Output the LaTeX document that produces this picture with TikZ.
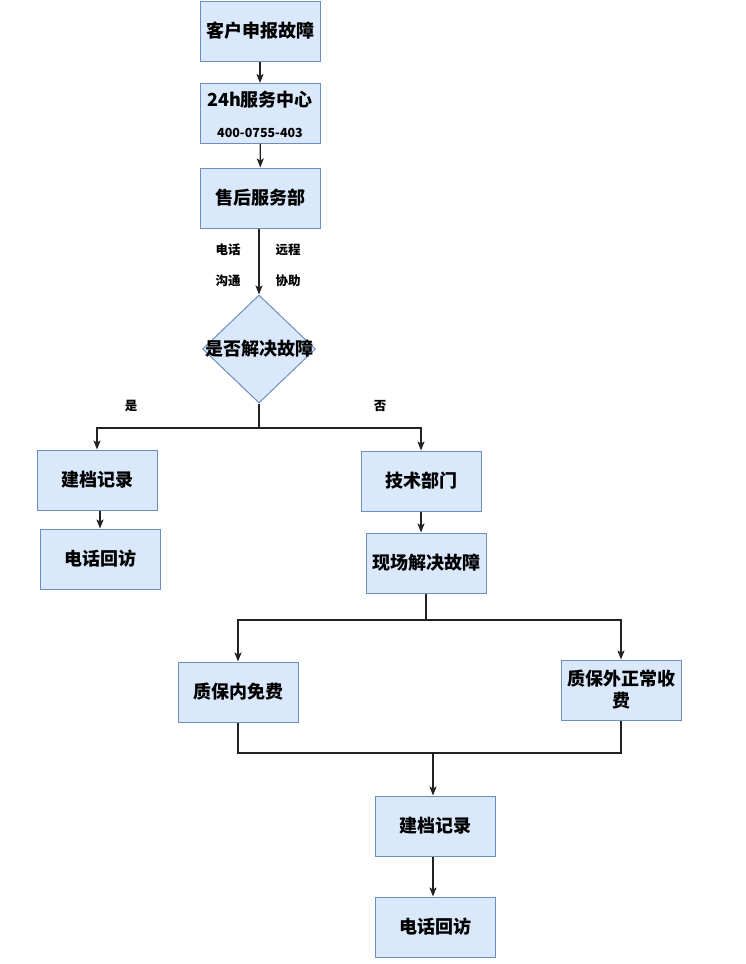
\documentclass[tikz,border=0pt]{standalone}
\usepackage{fontspec}
\setmainfont{Noto Sans CJK SC}
\usetikzlibrary{shapes.geometric,arrows.meta}
\definecolor{boxfill}{HTML}{DAE8FC}
\definecolor{boxline}{HTML}{6C8EBF}
\definecolor{wire}{HTML}{222222}
\begin{document}
\begin{tikzpicture}[x=1pt,y=-1pt,
  box/.style={draw=boxline,fill=boxfill,line width=1pt,minimum width=120pt,minimum height=60pt,
    inner sep=2pt,align=center,font=\bfseries\fontsize{18}{22}\selectfont},
  decision/.style={diamond,draw=boxline,fill=boxfill,line width=1pt,minimum width=113pt,
    minimum height=108pt,inner sep=0pt},
  bigtext/.style={inner sep=0pt,font=\bfseries\fontsize{18}{22}\selectfont},
  smalltext/.style={inner sep=0pt,font=\bfseries\fontsize{12.5}{14}\selectfont},
  link/.style={draw=wire,line width=1.2pt},
  arrow/.style={link,-{Stealth[length=9pt,width=7pt,inset=2pt]}}]
\useasboundingbox (0,0) rectangle (746,964);
%top chain
\node[box] (report) at (260,31) {客户申报故障};
\node[box] (hotline) at (260,113.5) {};
\node[bigtext] (hotlinename) at (260,100) {24h服务中心};
\node[smalltext] (hotlinenum) at (260,133) {400-0755-403};
\node[box] (service) at (260.5,198) {售后服务部};
%decision
\node[decision] (solved) at (259,349) {};
\node[bigtext] (solvedtext) at (259,349) {是否解决故障};
%left branch (yes)
\node[box] (fileA) at (97,480) {建档记录};
\node[box] (callA) at (100,559) {电话回访};
%right branch (no)
\node[box] (tech) at (421,481) {技术部门};
\node[box] (onsite) at (426,563) {现场解决故障};
\node[box] (free) at (238,692) {质保内免费};
\node[box] (paid) at (621,690) {质保外正常收\\费};
\node[box] (fileB) at (435,826) {建档记录};
\node[box] (callB) at (435,927) {电话回访};
%junctions
\coordinate (split1) at (259,428);
\coordinate (split2) at (426,620);
\coordinate (merge) at (433,753);
%connectors
\draw[arrow] (report) -- (hotline);
\draw[arrow] (hotline) -- (service);
\draw[arrow] (service.south -| solved) -- (solved);
\draw[link] (solved) -- (split1);
\draw[arrow] (split1) -| (fileA);
\draw[arrow] (split1) -| (tech);
\draw[arrow] (callA.north |- fileA.south) -- (callA);
\draw[arrow] (tech) -- (tech.south |- onsite.north);
\draw[link] (onsite) -- (split2);
\draw[arrow] (split2) -| (free);
\draw[arrow] (split2) -| (paid);
\draw[link] (free) |- (merge) -| (paid);
\draw[arrow] (merge) -- (fileB.north -| merge);
\draw[arrow] (fileB.south -| merge) -- (callB.north -| merge);
%labels
\node[smalltext] (lblphone) at (228,250) {电话};
\node[smalltext] (lbltalk) at (228,281) {沟通};
\node[smalltext] (lblremote) at (288,250) {远程};
\node[smalltext] (lblhelp) at (288,281) {协助};
\node[smalltext] (lblyes) at (131,406) {是};
\node[smalltext] (lblno) at (380,406) {否};
\end{tikzpicture}
\end{document}
